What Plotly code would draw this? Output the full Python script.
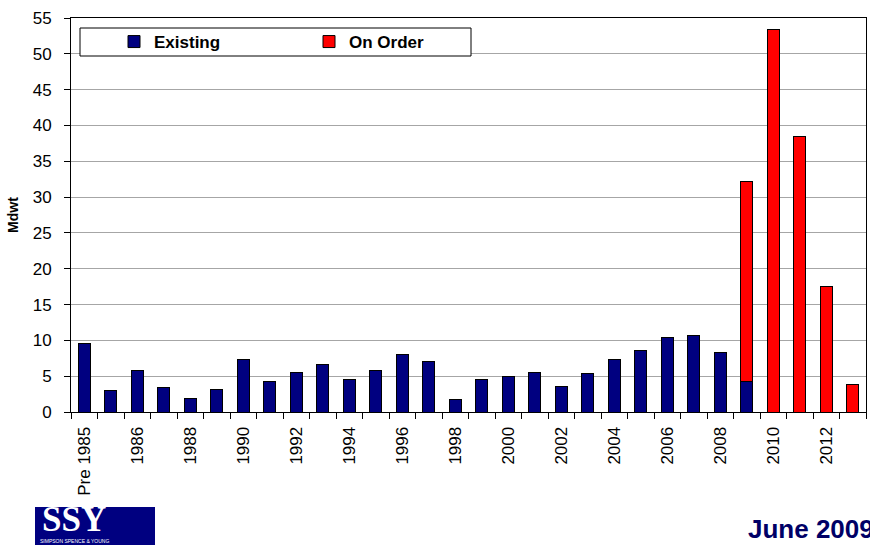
import plotly.graph_objects as go

# ---------------- data ----------------
categories = ["Pre 1985", "1985", "1986", "1987", "1988", "1989", "1990", "1991",
              "1992", "1993", "1994", "1995", "1996", "1997", "1998", "1999",
              "2000", "2001", "2002", "2003", "2004", "2005", "2006", "2007",
              "2008", "2009", "2010", "2011", "2012", "2013"]

existing = [9.5, 3.0, 5.8, 3.4, 1.95, 3.15, 7.3, 4.25, 5.55, 6.7,
            4.6, 5.8, 8.0, 7.0, 1.8, 4.6, 4.95, 5.45, 3.55, 5.35,
            7.3, 8.55, 10.4, 10.65, 8.3, 4.3, None, None, None, None]

on_order = [None, None, None, None, None, None, None, None, None, None,
            None, None, None, None, None, None, None, None, None, None,
            None, None, None, None, None, 27.9, 53.4, 38.4, 17.5, 3.8]

tick_labels = ["Pre 1985", "", "1986", "", "1988", "", "1990", "", "1992", "",
               "1994", "", "1996", "", "1998", "", "2000", "", "2002", "",
               "2004", "", "2006", "", "2008", "", "2010", "", "2012", ""]

y_ticks = [0, 5, 10, 15, 20, 25, 30, 35, 40, 45, 50, 55]

# ---------------- layout geometry ----------------
W, H = 870, 545
ML, MR, MT, MB = 71, 4, 18, 133
PW, PH = W - ML - MR, H - MT - MB


def px_x(p):
    return (p - ML) / PW


def px_y(p):
    return (H - MB - p) / PH


FONT = "Liberation Sans, Arial, sans-serif"
NAVY = "#000080"
RED = "#FF0000"

fig = go.Figure()
fig.add_trace(go.Bar(
    name="Existing", x=categories, y=existing,
    marker=dict(color=NAVY, line=dict(color="black", width=1)),
))
fig.add_trace(go.Bar(
    name="On Order", x=categories, y=on_order,
    marker=dict(color=RED, line=dict(color="black", width=1)),
))

fig.update_layout(
    width=W, height=H,
    margin=dict(l=ML, r=MR, t=MT, b=MB, pad=0),
    barmode="stack",
    bargap=0.56,
    paper_bgcolor="white",
    plot_bgcolor="white",
    font=dict(family=FONT, size=17, color="black"),
    showlegend=True,
    legend=dict(
        orientation="h",
        x=px_x(114), xanchor="left",
        y=px_y(42), yanchor="middle",
        bgcolor="rgba(0,0,0,0)",
        borderwidth=0,
        entrywidth=150,
        font=dict(family=FONT, size=17, color="black", weight="bold"),
        traceorder="normal",
    ),
    xaxis=dict(
        type="category",
        tickmode="array",
        tickvals=categories,
        ticktext=tick_labels,
        tickangle=-90,
        tickson="boundaries",
        ticks="outside",
        ticklen=6,
        tickcolor="black",
        ticklabelstandoff=7,
        showline=True,
        linecolor="black",
        linewidth=1,
        mirror=True,
        showgrid=False,
        tickfont=dict(family=FONT, size=17, color="black"),
    ),
    yaxis=dict(
        range=[0, 55],
        tickmode="array",
        tickvals=y_ticks,
        ticks="outside",
        ticklen=6,
        tickcolor="black",
        showline=True,
        linecolor="black",
        linewidth=1,
        mirror=True,
        showgrid=True,
        gridcolor="#a6a6a6",
        gridwidth=1,
        zeroline=False,
        ticklabelstandoff=9,
        tickfont=dict(family=FONT, size=17, color="black"),
        title=dict(text="Mdwt", standoff=10,
                   font=dict(family=FONT, size=14, color="black", weight="bold")),
    ),
    shapes=[
        # legend box
        dict(type="rect", xref="paper", yref="paper",
             x0=px_x(80), x1=px_x(471), y0=px_y(56), y1=px_y(28),
             fillcolor="white", line=dict(color="black", width=1), layer="above"),
        # logo box
        dict(type="rect", xref="paper", yref="paper",
             x0=px_x(35), x1=px_x(155), y0=px_y(545), y1=px_y(507),
             fillcolor=NAVY, line=dict(width=0), layer="above"),
    ],
    annotations=[
        dict(text="<b>SSY</b>", xref="paper", yref="paper",
             x=px_x(74), y=px_y(519), xanchor="center", yanchor="middle",
             showarrow=False,
             font=dict(family="Liberation Serif, Times New Roman, serif", size=35, color="white")),
        dict(text="SIMPSON SPENCE &amp; YOUNG", xref="paper", yref="paper",
             x=px_x(74), y=px_y(541), xanchor="center", yanchor="middle",
             showarrow=False,
             font=dict(family=FONT, size=5, color="white")),
        dict(text="<b>June 2009</b>", xref="paper", yref="paper",
             x=px_x(746), y=px_y(529), xanchor="left", yanchor="middle",
             showarrow=False,
             font=dict(family=FONT, size=26, color="#000066")),
    ],
)

fig.write_html("out.html", config={"displayModeBar": False},
               post_script="document.body.style.margin='0px';")
